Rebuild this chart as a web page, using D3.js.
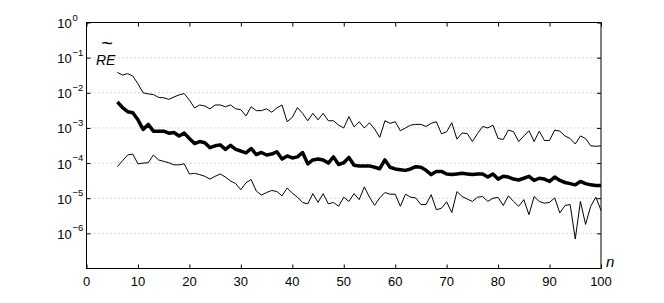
<!DOCTYPE html>
<html><head><meta charset="utf-8">
<script src="https://cdn.jsdelivr.net/npm/d3@7"></script>
<style>body{margin:0;background:#fff}svg{display:block}text{font-family:"Liberation Sans",Arial,sans-serif;fill:#000}</style>
</head><body><svg id="c" width="664" height="303"></svg>
<script>
const nStart = 6;
const upper = [3.8e-2,3.2e-2,3.5e-2,3.0e-2,1.8e-2,1.0e-2,9.3e-3,8.9e-3,7.4e-3,7.2e-3,
6.5e-3,7.6e-3,8.7e-3,9.5e-3,6.2e-3,3.7e-3,4.5e-3,4.2e-3,3.5e-3,4.5e-3,
4.5e-3,4.0e-3,4.5e-3,3.5e-3,3.3e-3,2.2e-3,4.0e-3,3.1e-3,3.1e-3,3.5e-3,
2.8e-3,3.7e-3,4.5e-3,1.5e-3,2.0e-3,3.8e-3,2.6e-3,1.6e-3,2.6e-3,1.7e-3,
2.6e-3,1.6e-3,1.6e-3,1.2e-3,1.0e-3,2.1e-3,1.07e-3,1.5e-3,1.0e-3,1.4e-3,
9.3e-4,5.4e-4,1.6e-3,1.35e-3,1.5e-3,8.3e-4,1.0e-3,1.2e-3,1.26e-3,1.26e-3,
1.1e-3,1.35e-3,1.5e-3,6.8e-4,7.8e-4,1.4e-3,4.8e-4,7.2e-4,6.9e-4,4.1e-4,
6.9e-4,1.1e-3,1.0e-3,1.2e-3,5.0e-4,4.7e-4,8.7e-4,7.8e-4,4.1e-4,5.9e-4,
8.3e-4,4.1e-4,8.1e-4,4.4e-4,4.4e-4,8.7e-4,8.1e-4,5.9e-4,5.0e-4,3.5e-4,
5.9e-4,5.0e-4,3.1e-4,3.0e-4,3.1e-4];
const middle = [5.5e-3,3.8e-3,2.9e-3,2.7e-3,1.7e-3,9.1e-4,1.26e-3,8.1e-4,8.1e-4,8.1e-4,
7.1e-4,7.4e-4,5.9e-4,7.1e-4,5.0e-4,3.6e-4,4.1e-4,3.8e-4,2.75e-4,3.1e-4,
3.3e-4,2.45e-4,3.2e-4,2.45e-4,2.2e-4,1.95e-4,2.6e-4,1.75e-4,2.0e-4,1.7e-4,
1.8e-4,2.1e-4,1.3e-4,1.6e-4,1.4e-4,1.5e-4,2.0e-4,9.5e-5,1.23e-4,1.3e-4,
1.23e-4,1.0e-4,1.5e-4,9.1e-5,1.02e-4,1.45e-4,8.7e-5,8.3e-5,8.3e-5,8.3e-5,
7.6e-5,6.9e-5,1.23e-4,7.6e-5,6.8e-5,6.5e-5,6.2e-5,6.8e-5,7.9e-5,7.6e-5,
6.2e-5,4.7e-5,5.8e-5,5.8e-5,4.9e-5,4.7e-5,4.9e-5,5.1e-5,4.9e-5,4.7e-5,
4.9e-5,4.9e-5,4.0e-5,4.9e-5,3.5e-5,4.2e-5,4.0e-5,3.5e-5,3.3e-5,3.7e-5,
4.2e-5,3.2e-5,3.7e-5,3.5e-5,3.0e-5,4.0e-5,3.2e-5,2.8e-5,2.6e-5,2.4e-5,
3.0e-5,2.6e-5,2.4e-5,2.3e-5,2.3e-5];
const lower = [7.9e-5,1.17e-4,1.7e-4,1.8e-4,9.5e-5,1.0e-4,1.02e-4,1.7e-4,1.23e-4,1.12e-4,
1.02e-4,8.9e-5,8.9e-5,9.5e-5,4.9e-5,5.1e-5,4.7e-5,4.2e-5,3.5e-5,4.2e-5,
4.9e-5,4.0e-5,3.1e-5,2.6e-5,1.74e-5,2.75e-5,3.4e-5,1.6e-5,1.23e-5,1.45e-5,
1.66e-5,1.55e-5,1.17e-5,1.95e-5,1.4e-5,1.07e-5,7.6e-6,6.9e-6,1.35e-5,7.6e-6,
1.35e-5,6.9e-6,7.6e-6,5.9e-6,1.07e-5,8.1e-6,1.35e-5,9.1e-6,2.1e-5,1.07e-5,
6.3e-6,1.02e-5,1.45e-5,1.3e-5,1.3e-5,5.9e-6,1.3e-5,1.07e-5,1.02e-5,6.6e-6,
6.6e-6,1.26e-5,4.7e-6,5.2e-6,7.9e-6,3.9e-6,1.55e-5,1.12e-5,9.5e-6,8.1e-6,
1.07e-5,1.12e-5,8.1e-6,1.0e-5,1.05e-5,6.2e-6,1.17e-5,8.1e-6,5.9e-6,9.1e-6,
3.4e-6,1.12e-5,8.1e-6,7.2e-6,7.6e-6,1.02e-5,3.8e-6,6.2e-6,6.6e-6,6.9e-7,
8.1e-6,1.8e-6,5.9e-6,1.07e-5,4.5e-6];
const xTicks = [0,10,20,30,40,50,60,70,80,90,100];
const yExps = [0,-1,-2,-3,-4,-5,-6];
const gridExps = [-1,-2,-3,-4,-5,-6];

const L = 86.5, R = 601, T = 22.5, B = 268.5;
const svg = d3.select("#c");
const x = d3.scaleLinear().domain([0,100]).range([L,R]);
const y = d3.scaleLog().domain([1e-7,1]).range([B,T]);

// grid
svg.append("g").selectAll("line").data(gridExps).join("line")
  .attr("x1",L).attr("x2",R).attr("y1",d=>y(Math.pow(10,d))).attr("y2",d=>y(Math.pow(10,d)))
  .attr("stroke","#b4b4b4").attr("stroke-width",1).attr("stroke-dasharray","1,3");

// axes ticks (inward)
const yt = yExps.map(e=>Math.pow(10,e));
const gl = svg.append("g").attr("transform",`translate(${L},0)`)
  .call(d3.axisRight(y).tickValues(yt).tickSize(4).tickFormat(""));
const gr = svg.append("g").attr("transform",`translate(${R},0)`)
  .call(d3.axisLeft(y).tickValues(yt).tickSize(4).tickFormat(""));
const gb = svg.append("g").attr("transform",`translate(0,${B})`)
  .call(d3.axisTop(x).tickValues(xTicks).tickSize(4).tickFormat(""));
const gt = svg.append("g").attr("transform",`translate(0,${T})`)
  .call(d3.axisBottom(x).tickValues(xTicks).tickSize(4).tickFormat(""));
[gl,gr,gb,gt].forEach(g=>{g.select(".domain").remove();g.selectAll("line").attr("stroke","#000");});

// box
svg.append("rect").attr("x",L).attr("y",T).attr("width",R-L).attr("height",B-T)
  .attr("fill","none").attr("stroke","#000").attr("stroke-width",1);

// y labels
const yl = svg.append("g");
yExps.forEach(e=>{
  const yy = y(Math.pow(10,e));
  yl.append("text").attr("x",57.3).attr("y",yy+5.5).attr("font-size",13).text("10");
  yl.append("text").attr("x",72.5).attr("y",yy-2).attr("font-size",9.5).text(e===0?"0":"\u2212"+(-e));
});
// x labels
svg.append("g").selectAll("text").data(xTicks).join("text")
  .attr("x",d=>x(d)).attr("y",286).attr("text-anchor","middle").attr("font-size",13).text(d=>d);

// series
const line = d3.line().x((d,i)=>x(nStart+i)).y(d=>y(d));
svg.append("path").datum(upper).attr("d",line).attr("fill","none").attr("stroke","#000").attr("stroke-width",1).attr("stroke-linejoin","round");
svg.append("path").datum(lower).attr("d",line).attr("fill","none").attr("stroke","#000").attr("stroke-width",1).attr("stroke-linejoin","round");
svg.append("path").datum(middle).attr("d",line).attr("fill","none").attr("stroke","#000").attr("stroke-width",3.5).attr("stroke-linejoin","round");

// annotations
svg.append("text").attr("x",107).attr("y",50).attr("text-anchor","middle").attr("font-size",20).text("~");
svg.append("text").attr("x",96).attr("y",65).attr("font-size",14).attr("font-style","italic").text("RE");
svg.append("text").attr("x",606).attr("y",267).attr("font-size",15).attr("font-style","italic").text("n");
</script></body></html>
